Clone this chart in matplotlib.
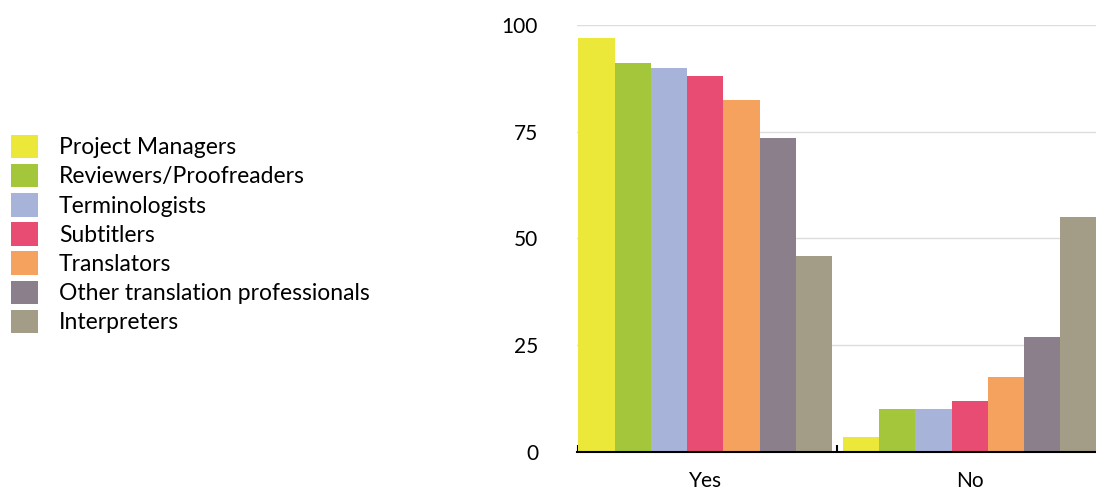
import matplotlib.pyplot as plt
import numpy as np
from matplotlib.patches import Patch

plt.rcParams['font.family'] = ['Lato', 'DejaVu Sans']

groups = ['Yes', 'No']
roles = ['Project Managers', 'Reviewers/Proofreaders', 'Terminologists', 'Subtitlers',
         'Translators', 'Other translation professionals', 'Interpreters']
yes_vals = [97, 91, 90, 88, 82.5, 73.5, 46]
no_vals = [3.5, 10, 10, 12, 17.5, 27, 55]
colors = ['#ECE83A', '#A3C63A', '#A8B3DA', '#E94C72', '#F4A25E', '#8A7F8A', '#A39C86']


def main():
    fig = plt.figure(figsize=(10.96, 4.92), dpi=100)
    ax = fig.add_axes([577 / 1096, 1 - 452 / 492, 1 - 577 / 1096, (452 - 25) / 492])

    x = np.arange(len(groups))
    w = 0.137
    for i in range(len(roles)):
        vals = [yes_vals[i], no_vals[i]]
        ax.bar(x + (i - 3) * w, vals, width=w, color=colors[i], zorder=2)

    ax.set_xlim(-0.485, 1.478)
    ax.set_ylim(0, 100)
    ax.set_yticks([0, 25, 50, 75, 100])
    ax.yaxis.grid(True, color='#dddddd', linewidth=1, zorder=0)
    ax.set_xticks(x)
    ax.set_xticklabels(groups, fontsize=15)
    ax.tick_params(axis='x', length=0, pad=14)
    ax.tick_params(axis='y', length=0, labelsize=15, pad=28)
    ax.set_xticks([-0.48, 0.5], minor=True)
    ax.tick_params(axis='x', which='minor', direction='in', length=5, width=1.5)
    for s in ['top', 'right', 'left']:
        ax.spines[s].set_visible(False)
    ax.spines['bottom'].set_linewidth(1.5)

    handles = [Patch(facecolor=c, edgecolor='none') for c in colors]
    fig.legend(handles, roles, loc='upper left', bbox_to_anchor=(-0.009, 1 - 114 / 492),
               frameon=False, fontsize=16.5, handlelength=1.2, handleheight=1.2,
               labelspacing=0.25, handletextpad=0.9)

    fig.savefig('out.png', dpi=100)


if __name__ == '__main__':
    main()
